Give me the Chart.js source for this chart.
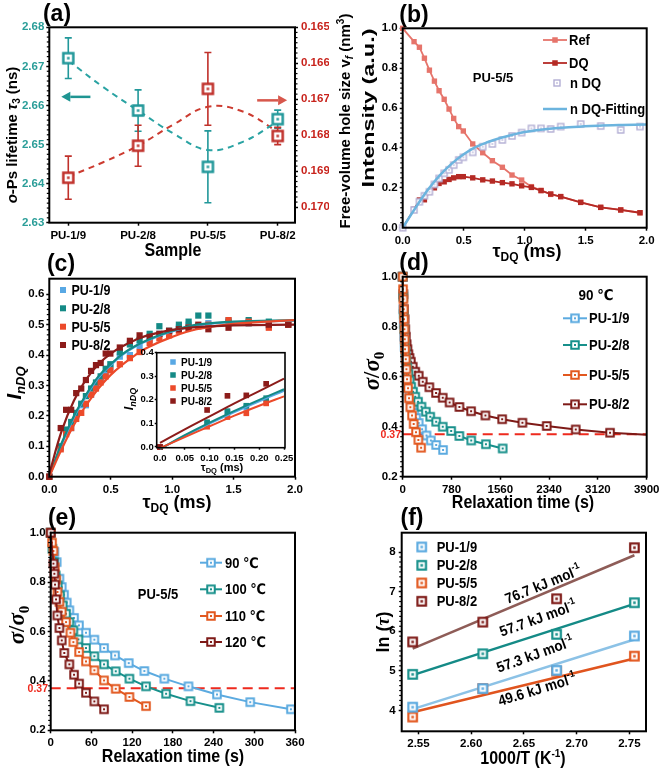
<!DOCTYPE html>
<html><head><meta charset="utf-8">
<script src="https://cdn.jsdelivr.net/npm/chart.js@4.4.1/dist/chart.umd.min.js"></script>
<style>html,body{margin:0;padding:0;background:#fff}#wrap{position:relative;width:660px;height:768px;overflow:hidden;background:#fff}canvas{position:absolute;left:0;top:0}</style>
</head><body><div id="wrap"></div>
<script>
// ================= DATA =================
// (a)
const samples = ['PU-1/9','PU-2/8','PU-5/5','PU-8/2'];
const sampleIdx = [0,1,2,3];
const tau3 = [2.6721, 2.6587, 2.6443, 2.6565];
const tau3Err = [0.0052, 0.0053, 0.0092, 0.0023];
const holeVf = [0.16918, 0.16829, 0.16671, 0.16802];
const holeVfErr = [0.0006, 0.00057, 0.00101, 0.00024];
const trendX = [0, 0.5, 1, 1.5, 2, 2.5, 3];
const tau3Trend = [2.6715, 2.6647, 2.6587, 2.6529, 2.6486, 2.6507, 2.6559];
const holeVfTrend = [0.16915, 0.16875, 0.16829, 0.16771, 0.16721, 0.16734, 0.1679];
const tau3Ticks = [2.63, 2.64, 2.65, 2.66, 2.67, 2.68];
const vfTicks = [0.165, 0.166, 0.167, 0.168, 0.169, 0.170];
// (b)
const tauDQ = [0,0.093,0.137,0.178,0.219,0.26,0.298,0.34,0.38,0.418,0.459,0.497,0.574,0.656,0.735,0.817,0.896,0.975,1.055,1.134,1.213,1.295,1.459,1.623,1.787,1.945];
const refB = [1.0,0.933,0.905,0.85,0.79,0.735,0.687,0.644,0.595,0.548,0.507,0.485,0.42,0.376,0.336,0.303,0.264,0.239,0.206,0.187,0.167,0.156,0.127,0.102,0.089,0.075];
const dqB = [0,0.092,0.139,0.14,0.18,0.2,0.222,0.23,0.242,0.25,0.256,0.256,0.25,0.24,0.234,0.226,0.22,0.21,0.202,0.186,0.169,0.156,0.127,0.102,0.089,0.075];
const ndqB = [0,0.089,0.13,0.16,0.18,0.217,0.247,0.273,0.29,0.314,0.34,0.353,0.378,0.406,0.42,0.44,0.46,0.477,0.498,0.498,0.495,0.507,0.52,0.51,0.49,0.507];
const fitBX = [0,0.1,0.2,0.3,0.4,0.5,0.6,0.7,0.8,0.9,1.0,1.2,1.4,1.6,1.8,2.0];
const fitBY = [0,0.095,0.185,0.26,0.32,0.368,0.405,0.43,0.45,0.466,0.48,0.496,0.505,0.511,0.515,0.518];
const unitTicks = [0,0.2,0.4,0.6,0.8,1.0];
const msTicks = [0,0.5,1.0,1.5,2.0];
// (c)
const ndq19 = [0,0.095,0.15,0.16,0.2,0.235,0.235,0.27,0.30,0.32,0.34,0.36,0.395,0.40,0.43,0.45,0.47,0.475,0.49,0.50,0.495,0.505,0.515,0.505,0.495,0.505];
const ndq28 = [0,0.10,0.155,0.18,0.21,0.24,0.265,0.29,0.31,0.33,0.355,0.37,0.41,0.435,0.45,0.47,0.495,0.48,0.50,0.51,0.53,0.53,0.51,0.515,0.51,0.50];
const ndq55 = [0,0.09,0.14,0.16,0.19,0.21,0.24,0.27,0.29,0.31,0.33,0.35,0.37,0.39,0.41,0.44,0.455,0.465,0.48,0.49,0.495,0.50,0.515,0.51,0.49,0.50];
const ndq82 = [0,0.16,0.22,0.22,0.275,0.29,0.318,0.348,0.367,0.374,0.405,0.405,0.425,0.447,0.465,0.46,0.47,0.48,0.485,0.49,0.5,0.485,0.49,0.505,0.50,0.50];
const fitCX = [0,0.1,0.2,0.3,0.4,0.5,0.6,0.7,0.8,1.0,1.2,1.5,2.0];
const fitC19 = [0,0.105,0.195,0.265,0.325,0.367,0.402,0.428,0.448,0.478,0.497,0.508,0.513];
const fitC28 = [0,0.11,0.2,0.27,0.33,0.37,0.405,0.43,0.45,0.48,0.5,0.51,0.515];
const fitC55 = [0,0.09,0.17,0.235,0.29,0.335,0.37,0.4,0.425,0.46,0.485,0.503,0.515];
const fitC82 = [0.01,0.15,0.25,0.32,0.37,0.405,0.43,0.45,0.465,0.483,0.492,0.498,0.50];
const cTicksY = [0,0.1,0.2,0.3,0.4,0.5,0.6];
// (c) inset
const inX = [0,0.095,0.136,0.174,0.214];
const in19 = [0,0.10,0.147,0.168,0.20];
const in28 = [0,0.105,0.152,0.175,0.207];
const in55 = [0,0.086,0.127,0.143,0.185];
const in82 = [0,0.157,0.217,0.219,0.268];
const inFitX = [0,0.05,0.1,0.15,0.2,0.25];
const inFit19 = [-0.008,0.047,0.099,0.148,0.194,0.238];
const inFit28 = [-0.008,0.05,0.103,0.153,0.2,0.245];
const inFit55 = [-0.005,0.042,0.088,0.133,0.175,0.215];
const inFit82 = [0.017,0.075,0.13,0.185,0.237,0.29];
const inTicksX = [0,0.05,0.10,0.15,0.20,0.25];
const inTicksY = [0,0.1,0.2,0.3,0.4];
// (d) 90 C
const tD19 = [0,5,10,16,23,31,40,50,62,76,92,110,130,155,185,215,255,310,380,450,535,645];
const sD19 = [1.0,0.93,0.87,0.81,0.76,0.72,0.68,0.645,0.615,0.585,0.555,0.53,0.505,0.48,0.455,0.435,0.415,0.39,0.365,0.345,0.327,0.307];
const tD28 = [0,8,16,25,35,45,58,72,90,110,135,165,200,245,300,370,440,535,640,775,905,1095,1330,1598];
const sD28 = [1.0,0.92,0.85,0.79,0.74,0.70,0.665,0.635,0.61,0.585,0.56,0.54,0.52,0.50,0.48,0.46,0.44,0.42,0.40,0.383,0.363,0.345,0.33,0.313];
const tD55 = [0,5,11,16,21,27,32,37,48,59,69,85,101,122,149,175,212,250,294];
const sD55 = [1.0,0.95,0.91,0.87,0.83,0.79,0.75,0.71,0.67,0.63,0.59,0.554,0.514,0.478,0.445,0.411,0.378,0.347,0.316];
const tD82 = [0,10,20,30,40,50,62,75,90,108,130,160,200,256,320,426,533,640,750,906,1093,1322,1590,1913,2302,2765,3314,3900];
const sD82 = [1.0,0.93,0.87,0.83,0.79,0.76,0.73,0.71,0.69,0.675,0.66,0.64,0.62,0.604,0.58,0.558,0.535,0.516,0.497,0.479,0.462,0.445,0.43,0.416,0.403,0.389,0.376,0.368];
const dTicksX = [0,780,1560,2340,3120,3900];
const relaxTicksY = [0.2,0.4,0.6,0.8,1.0];
const threshold = 0.37;
// (e) PU-5/5
const tE90 = [0,5.4,8.8,12.8,16.2,19.6,23.6,27.5,34.4,41.7,52,64.3,78.6,94.8,115,138,167.5,203,245,294,354];
const sE90 = [1.0,0.922,0.881,0.814,0.78,0.749,0.717,0.686,0.655,0.625,0.595,0.567,0.533,0.503,0.472,0.44,0.409,0.378,0.345,0.314,0.285];
const tE100 = [0,2.5,4.9,7.4,10.3,13.8,17.7,22.6,27.5,33.4,40.8,52,64.3,78.6,95.8,116,140.5,170,206,248.5];
const sE100 = [1.0,0.935,0.881,0.827,0.787,0.746,0.706,0.672,0.638,0.605,0.568,0.533,0.50,0.467,0.439,0.409,0.378,0.348,0.318,0.291];
const tE110 = [0,2,4,6,8,10,12.8,16.2,22.6,29,33.4,41.8,52,64.3,78.6,95.8,116,140.5];
const sE110 = [1.0,0.96,0.926,0.86,0.81,0.76,0.72,0.68,0.638,0.595,0.557,0.517,0.479,0.443,0.402,0.368,0.335,0.298];
const tE120 = [0,4,5.4,6.4,7.9,9.8,12.8,16.2,20,27.5,34.4,41.8,52,64.3,78.6];
const sE120 = [1.0,0.875,0.834,0.79,0.73,0.665,0.614,0.564,0.513,0.467,0.425,0.389,0.352,0.317,0.285];
const eTicksX = [0,60,120,180,240,300,360];
const tempsE = ['90 ℃','100 ℃','110 ℃','120 ℃'];
// (f)
const invT = [2.5445, 2.611, 2.681, 2.7548];
const lnTau19 = [4.08, 4.55, 5.01, 5.88];
const lnTau28 = [4.91, 5.43, 5.92, 6.72];
const lnTau55 = [3.83, 4.55, 4.99, 5.37];
const lnTau82 = [5.73, 6.23, 6.82, 8.11];
const fitFX = [2.5445, 2.7548];
const fitF19 = [4.03, 5.79];
const fitF28 = [4.89, 6.69];
const fitF55 = [3.95, 5.31];
const fitF82 = [5.56, 7.92];
const eaValues = ['76.7','57.7','57.3','49.6'];
const fTicksX = [2.55,2.60,2.65,2.70,2.75];
const fTicksY = [4,5,6,7,8];

// ================= HELPERS =================
const W = 660, H = 768;
const FONT = "'Liberation Sans','DejaVu Sans',Arial,sans-serif";
const SERIF = "'Liberation Serif','DejaVu Serif',serif";
const TEAL = '#22989A', TEALT = '#2A9D98', REDA = '#C0312B', REDAT = '#C8231C';
const C19 = '#5BAAE0', C28 = '#17908B', C55 = '#E2581F', C82 = '#7E1A17';
const CC19 = '#58A8E4', CC28 = '#148A86', CC55 = '#EC4A2A', CC82 = '#8C1C1A';
const wrap = document.getElementById('wrap');
const zip = (xs, ys) => xs.map((x, i) => ({x, y: ys[i]}));

function mk(color, side, lw, dot) {
  const c = document.createElement('canvas');
  const s = Math.ceil(side + lw + 2);
  c.width = s; c.height = s;
  const g = c.getContext('2d');
  const o = (s - side) / 2;
  g.fillStyle = '#fff'; g.fillRect(o, o, side, side);
  g.strokeStyle = color; g.lineWidth = lw; g.strokeRect(o, o, side, side);
  if (dot) { g.fillStyle = color; g.fillRect(s/2 - dot/2, s/2 - dot/2, dot, dot); }
  return c;
}
function fnt(p) { return (p.i ? 'italic ' : '') + (p.b === 0 ? '' : 'bold ') + p.s + 'px ' + (p.f === 'serif' ? SERIF : FONT); }
function txt(ctx, x, y, parts, o) {
  o = o || {};
  ctx.save(); ctx.translate(x, y);
  if (o.rot) ctx.rotate(o.rot * Math.PI / 180);
  ctx.scale(o.sx || 1, o.sy || 1);
  ctx.textBaseline = 'alphabetic'; ctx.textAlign = 'left';
  let w = 0;
  const ws = parts.map(p => { ctx.font = fnt(p); const m = ctx.measureText(p.t).width; w += m; return m; });
  let cx = o.align === 'left' ? 0 : (o.align === 'right' ? -w : -w / 2);
  const base = parts[0].s * 0.36;
  parts.forEach((p, i) => { ctx.font = fnt(p); ctx.fillStyle = p.c || o.color || '#000'; ctx.fillText(p.t, cx, base + (p.dy || 0)); cx += ws[i]; });
  ctx.restore();
}
function sc(o) {
  const horiz = o.axis === 'x';
  return {
    type: 'linear', position: o.pos, min: o.min, max: o.max, reverse: !!o.reverse,
    grid: {display: true, drawOnChartArea: false, drawTicks: true, tickLength: o.tl == null ? 3 : o.tl, tickWidth: 1.5, tickColor: '#000'},
    border: {display: false},
    ticks: {autoSkip: false, maxRotation: 0, minRotation: 0, padding: o.pad == null ? 2 : o.pad, color: o.color || '#000',
      font: {family: FONT, size: o.fs || 11.5, weight: 'bold'}, callback: o.fmt},
    afterBuildTicks: s => { s.ticks = o.ticks.map(v => ({value: v})); },
    afterFit: s => { if (horiz) s.height = o.size; else s.width = o.size; s.paddingLeft = 0; s.paddingRight = 0; s.paddingTop = 0; s.paddingBottom = 0; }
  };
}
function frameAndMinor(ctx, chart, lw, minorSides) {
  const a = chart.chartArea;
  ctx.save();
  ctx.strokeStyle = '#000'; ctx.lineWidth = lw;
  ctx.strokeRect(a.left, a.top, a.right - a.left, a.bottom - a.top);
  ctx.lineWidth = 1.2;
  (minorSides || []).forEach(ms => {
    const s = chart.scales[ms.id];
    const px = s.ticks.map(k => s.getPixelForValue(k.value));
    for (let i = 0; i < px.length - 1; i++) {
      const n = Math.max(2, Math.round(Math.abs(px[i+1] - px[i]) / 5));
      for (let j = 1; j < n; j++) {
        const p = px[i] + (px[i+1] - px[i]) * j / n;
        ctx.beginPath();
        if (ms.side === 'left') { ctx.moveTo(a.left, p); ctx.lineTo(a.left - 2.5, p); }
        else if (ms.side === 'right') { ctx.moveTo(a.right, p); ctx.lineTo(a.right + 2.5, p); }
        else { ctx.moveTo(p, a.bottom); ctx.lineTo(p, a.bottom + 2.5); }
        ctx.stroke();
      }
    }
  });
  ctx.restore();
}
function arrow(ctx, x1, y, x2, color, lw, hl, hw) {
  const d = Math.sign(x2 - x1);
  ctx.save(); ctx.strokeStyle = color; ctx.fillStyle = color; ctx.lineWidth = lw;
  ctx.beginPath(); ctx.moveTo(x1, y); ctx.lineTo(x2 - d * hl, y); ctx.stroke();
  ctx.beginPath(); ctx.moveTo(x2, y); ctx.lineTo(x2 - d * hl, y - hw); ctx.lineTo(x2 - d * hl, y + hw); ctx.closePath(); ctx.fill();
  ctx.restore();
}
function legLine(ctx, x1, x2, y, color, lw) {
  ctx.save(); ctx.strokeStyle = color; ctx.lineWidth = lw; ctx.beginPath(); ctx.moveTo(x1, y); ctx.lineTo(x2, y); ctx.stroke(); ctx.restore();
}
function legImg(ctx, img, x, y) { ctx.drawImage(img, x - img.width / 2, y - img.height / 2); }
function legRect(ctx, color, x, y, s) { ctx.save(); ctx.fillStyle = color; ctx.fillRect(x - s/2, y - s/2, s, s); ctx.restore(); }

function mkChart(id, L, T, R, B, yW, xH, rW, scales, datasets, extra) {
  const c = document.createElement('canvas');
  c.id = id; c.width = W; c.height = H; c.style.width = W + 'px'; c.style.height = H + 'px';
  wrap.appendChild(c);
  datasets.forEach(d => { if (d.clip === undefined) d.clip = false; });
  return new Chart(c, {
    type: 'scatter',
    data: {datasets},
    options: {
      responsive: false, animation: false, devicePixelRatio: 1, events: [],
      layout: {padding: {left: L - yW, top: T, right: W - R - (rW || 0), bottom: H - B - xH}},
      plugins: {legend: {display: false}, tooltip: {enabled: false}},
      scales
    },
    plugins: [extra]
  });
}
function lineDS(xs, ys, color, lw, extra) {
  return Object.assign({data: zip(xs, ys), showLine: true, borderColor: color, borderWidth: lw, pointRadius: 0, tension: 0}, extra || {});
}
function markDS(xs, ys, img, line, color, lw, extra) {
  return Object.assign({data: zip(xs, ys), showLine: !!line, borderColor: color, borderWidth: lw || 2, pointStyle: img, pointRadius: 5, tension: 0}, extra || {});
}

// ================= (a) =================
const mkTealA = mk(TEAL, 10, 2.5, 2.5), mkRedA = mk(REDA, 10, 2.5, 2.5);
mkChart('ca', 49.3, 27.3, 295, 222.7, 46, 25, 34, {
  x: sc({axis: 'x', pos: 'bottom', min: -0.272, max: 3.248, ticks: sampleIdx, fmt: v => samples[v], size: 25, pad: 3}),
  y: sc({axis: 'y', pos: 'left', min: 2.63, max: 2.68, ticks: tau3Ticks, fmt: v => v.toFixed(2), size: 46, color: TEALT}),
  y2: sc({axis: 'y', pos: 'right', min: 0.165, max: 0.17043, reverse: true, ticks: vfTicks, fmt: v => v.toFixed(3), size: 34, color: REDAT, pad: 3})
}, [
  markDS(sampleIdx, tau3, mkTealA, false, TEAL, 2, {yAxisID: 'y', order: 0}),
  markDS(sampleIdx, holeVf, mkRedA, false, REDA, 2, {yAxisID: 'y2', order: 0}),
  lineDS(trendX, tau3Trend, '#2AA3A3', 2, {yAxisID: 'y', borderDash: [6, 5], tension: 0.4, order: 2}),
  lineDS(trendX, holeVfTrend, '#CC3B30', 2, {yAxisID: 'y2', borderDash: [6, 5], tension: 0.4, order: 2})
], {
  id: 'pa',
  beforeDatasetsDraw(chart) {
    const ctx = chart.ctx, x = chart.scales.x, y = chart.scales.y, y2 = chart.scales.y2;
    ctx.save(); ctx.lineWidth = 1.6;
    sampleIdx.forEach((k, i) => {
      const px = x.getPixelForValue(k);
      [[y, tau3[i], tau3Err[i], TEAL], [y2, holeVf[i], holeVfErr[i], REDA]].forEach(([s, v, e, col]) => {
        const a = s.getPixelForValue(v - e), b = s.getPixelForValue(v + e);
        ctx.strokeStyle = col; ctx.beginPath();
        ctx.moveTo(px, a); ctx.lineTo(px, b);
        ctx.moveTo(px - 3.5, a); ctx.lineTo(px + 3.5, a);
        ctx.moveTo(px - 3.5, b); ctx.lineTo(px + 3.5, b);
        ctx.stroke();
      });
    });
    ctx.restore();
  },
  afterDraw(chart) {
    const ctx = chart.ctx, x = chart.scales.x, y = chart.scales.y, y2 = chart.scales.y2;
    frameAndMinor(ctx, chart, 2, [{id: 'y', side: 'left'}, {id: 'y2', side: 'right'}]);
    arrow(ctx, x.getPixelForValue(0.317), y.getPixelForValue(2.6622), x.getPixelForValue(-0.1), '#1F9592', 2.5, 9, 5);
    arrow(ctx, x.getPixelForValue(2.706), y2.getPixelForValue(0.16703), x.getPixelForValue(3.135), '#D7574C', 2.5, 9, 5);
    txt(ctx, 57, 13, [{t: '(a)', s: 23}]);
    txt(ctx, 12, 135, [{t: 'o', s: 15, i: 1}, {t: '-Ps lifetime ', s: 15}, {t: 'τ', s: 15, i: 1}, {t: '3', s: 10, dy: 3}, {t: ' (ns)', s: 15}], {rot: -90});
    txt(ctx, 345, 121, [{t: 'Free-volume hole size v', s: 15}, {t: 'f', s: 10, i: 1, dy: 3}, {t: ' (nm', s: 15}, {t: '3', s: 10, dy: -6}, {t: ')', s: 15}], {rot: -90});
    txt(ctx, 173, 250, [{t: 'Sample', s: 16}], {sy: 1.1});
  }
});

// ================= (b) =================
const mkNdq = mk('#B3AED4', 6, 1.4, 1.5);
mkChart('cb', 402.7, 28.3, 646.7, 227.7, 40, 25, 0, {
  x: sc({axis: 'x', pos: 'bottom', min: 0, max: 2, ticks: msTicks, fmt: v => v.toFixed(1), size: 25, pad: 3}),
  y: sc({axis: 'y', pos: 'left', min: 0, max: 1, ticks: unitTicks, fmt: v => v.toFixed(1), size: 40})
}, [
  lineDS(fitBX, fitBY, '#6CB4DE', 2.5, {tension: 0.4, order: 0}),
  markDS(tauDQ, ndqB, mkNdq, false, '#B3AED4', 1, {order: 1}),
  lineDS(tauDQ, dqB, '#B52A25', 1.8, {pointStyle: 'rect', pointRadius: 3.8, pointBackgroundColor: '#B52A25', pointBorderWidth: 0, order: 2}),
  lineDS(tauDQ, refB, '#E6746B', 1.8, {pointStyle: 'rect', pointRadius: 3.8, pointBackgroundColor: '#E6746B', pointBorderWidth: 0, order: 3})
], {
  id: 'pb',
  afterDraw(chart) {
    const ctx = chart.ctx;
    frameAndMinor(ctx, chart, 2, [{id: 'y', side: 'left'}]);
    txt(ctx, 414, 14, [{t: '(b)', s: 23}]);
    txt(ctx, 368, 108, [{t: 'Intensity (a.u.)', s: 17}], {rot: -90, sx: 1.38});
    txt(ctx, 527, 251, [{t: 'τ', s: 18}, {t: 'DQ', s: 12, dy: 4}, {t: ' (ms)', s: 18}]);
    txt(ctx, 493, 77, [{t: 'PU-5/5', s: 13}]);
    legLine(ctx, 543, 567, 40, '#E6746B', 1.8); legRect(ctx, '#E6746B', 555, 40, 5.5);
    legLine(ctx, 543, 567, 63, '#B52A25', 1.8); legRect(ctx, '#B52A25', 555, 63, 5.5);
    legImg(ctx, mkNdq, 557, 83);
    legLine(ctx, 543, 567, 109, '#6CB4DE', 2.5);
    txt(ctx, 569, 40, [{t: 'Ref', s: 13}], {align: 'left', sy: 1.1});
    txt(ctx, 569, 63, [{t: 'DQ', s: 13}], {align: 'left', sy: 1.1});
    txt(ctx, 570, 83, [{t: 'n DQ', s: 13}], {align: 'left', sy: 1.1});
    txt(ctx, 570, 109, [{t: 'n DQ-Fitting', s: 13}], {align: 'left', sy: 1.1});
  }
});

// ================= (c) =================
function sqDS(xs, ys, color, r, order) {
  return {data: zip(xs, ys), showLine: false, pointStyle: 'rect', pointRadius: r, pointBackgroundColor: color, pointBorderWidth: 0, borderColor: color, order};
}
mkChart('cc', 49.3, 278.7, 295, 476.7, 40, 25, 0, {
  x: sc({axis: 'x', pos: 'bottom', min: 0, max: 2, ticks: msTicks, fmt: v => v.toFixed(1), size: 25, pad: 3}),
  y: sc({axis: 'y', pos: 'left', min: 0, max: 0.6513, ticks: cTicksY, fmt: v => v.toFixed(1), size: 40})
}, [
  lineDS(fitCX, fitC82, CC82, 2.2, {tension: 0.4, order: 0}),
  lineDS(fitCX, fitC55, CC55, 2.2, {tension: 0.4, order: 0}),
  lineDS(fitCX, fitC28, CC28, 2.2, {tension: 0.4, order: 0}),
  lineDS(fitCX, fitC19, CC19, 2.2, {tension: 0.4, order: 1}),
  sqDS(tauDQ, ndq19, CC19, 4.4, 5),
  sqDS(tauDQ, ndq28, CC28, 4.4, 4),
  sqDS(tauDQ, ndq55, CC55, 4.4, 3),
  sqDS(tauDQ, ndq82, CC82, 4.4, 2)
], {
  id: 'pc',
  afterDraw(chart) {
    const ctx = chart.ctx;
    frameAndMinor(ctx, chart, 2, [{id: 'y', side: 'left'}]);
    txt(ctx, 61, 263, [{t: '(c)', s: 23}]);
    txt(ctx, 14, 383, [{t: 'I', s: 20, i: 1}, {t: 'nDQ', s: 13, i: 1, dy: 4}], {rot: -90});
    txt(ctx, 177, 502, [{t: 'τ', s: 18}, {t: 'DQ', s: 12, dy: 4}, {t: ' (ms)', s: 18}]);
    const cols = [CC19, CC28, CC55, CC82], ys = [290, 308.3, 326.7, 345];
    samples.forEach((n, i) => { legRect(ctx, cols[i], 63, ys[i], 6); txt(ctx, 71.5, ys[i], [{t: n, s: 12.5}], {align: 'left', sy: 1.2}); });
  }
});
// inset
mkChart('ci', 156.7, 352.7, 285, 447.7, 24, 20, 0, {
  x: sc({axis: 'x', pos: 'bottom', min: -0.0066, max: 0.252, ticks: inTicksX, fmt: v => v === 0 ? '0.0' : v.toFixed(2), size: 20, fs: 9.5, tl: 2, pad: 3}),
  y: sc({axis: 'y', pos: 'left', min: -0.003, max: 0.4, ticks: inTicksY, fmt: v => v.toFixed(1), size: 24, fs: 9.5, tl: 2, pad: 1})
}, [
  lineDS(inFitX, inFit82, CC82, 2, {tension: 0.4, order: 0}),
  lineDS(inFitX, inFit55, CC55, 2, {tension: 0.4, order: 0}),
  lineDS(inFitX, inFit28, CC28, 2, {tension: 0.4, order: 0}),
  lineDS(inFitX, inFit19, CC19, 2, {tension: 0.4, order: 1}),
  sqDS(inX, in19, CC19, 4, 5),
  sqDS(inX, in28, CC28, 4, 4),
  sqDS(inX, in55, CC55, 4, 3),
  sqDS(inX, in82, CC82, 4, 2)
], {
  id: 'pi',
  beforeDraw(chart) {
    const a = chart.chartArea, ctx = chart.ctx;
    ctx.save(); ctx.fillStyle = '#fff'; ctx.fillRect(a.left, a.top, a.right - a.left, a.bottom - a.top); ctx.restore();
  },
  afterDraw(chart) {
    const ctx = chart.ctx;
    frameAndMinor(ctx, chart, 1.6, []);
    txt(ctx, 128, 399, [{t: 'I', s: 13, i: 1}, {t: 'nDQ', s: 9, i: 1, dy: 3}], {rot: -90});
    txt(ctx, 222, 467, [{t: 'τ', s: 11}, {t: 'DQ', s: 7.5, dy: 2.5}, {t: ' (ms)', s: 11}]);
    const cols = [CC19, CC28, CC55, CC82], ys = [362, 375, 388, 401];
    samples.forEach((n, i) => { legRect(ctx, cols[i], 173, ys[i], 5.5); txt(ctx, 181, ys[i], [{t: n, s: 10}], {align: 'left', sy: 1.1}); });
  }
});

// ================= (d) =================
const mD19 = mk(C19, 7.5, 2, 2), mD28 = mk(C28, 7.5, 2, 2), mD55 = mk(C55, 7.5, 2, 2), mD82 = mk(C82, 7.5, 2, 2);
mkChart('cd', 402.7, 276.7, 646.7, 476.7, 40, 25, 0, {
  x: sc({axis: 'x', pos: 'bottom', min: 0, max: 3900, ticks: dTicksX, fmt: v => String(v), size: 25, pad: 3}),
  y: sc({axis: 'y', pos: 'left', min: 0.2, max: 1.0, ticks: relaxTicksY, fmt: v => v.toFixed(1), size: 40})
}, [
  markDS(tD55, sD55, mD55, true, C55, 2, {order: 0}),
  markDS(tD28, sD28, mD28, true, C28, 2, {order: 1}),
  markDS(tD19, sD19, mD19, true, C19, 2, {order: 2}),
  markDS(tD82, sD82, mD82, true, C82, 2, {order: 3, pointRadius: tD82.map(t => t === 3900 ? 0 : 5)}),
  lineDS([0, 3900], [threshold, threshold], '#EE2A1E', 2, {borderDash: [10, 6], order: 4})
], {
  id: 'pd',
  afterDraw(chart) {
    const ctx = chart.ctx, y = chart.scales.y;
    frameAndMinor(ctx, chart, 2, [{id: 'y', side: 'left'}]);
    txt(ctx, 401, y.getPixelForValue(threshold), [{t: threshold.toFixed(2), s: 10.5, c: '#EE2A1E'}], {align: 'right'});
    txt(ctx, 414, 262, [{t: '(d)', s: 23}]);
    txt(ctx, 371, 371, [{t: 'σ', s: 23, i: 1, f: 'serif'}, {t: '/', s: 23, f: 'serif'}, {t: 'σ', s: 23, i: 1, f: 'serif'}, {t: '0', s: 15, f: 'serif', dy: 5}], {rot: -90});
    txt(ctx, 523, 502, [{t: 'Relaxation time (s)', s: 16}], {sy: 1.12});
    txt(ctx, 596, 295, [{t: '90 ℃', s: 13.5}], {sy: 1.1});
    const imgs = [mD19, mD28, mD55, mD82], cols = [C19, C28, C55, C82], ys = [318.3, 345, 375, 404.3];
    samples.forEach((n, i) => { legLine(ctx, 563, 587, ys[i], cols[i], 2); legImg(ctx, imgs[i], 575, ys[i]); txt(ctx, 589, ys[i], [{t: n, s: 13}], {align: 'left', sy: 1.1}); });
  }
});

// ================= (e) =================
mkChart('ce', 50.7, 532.7, 295, 730.3, 40, 25, 0, {
  x: sc({axis: 'x', pos: 'bottom', min: 0, max: 360, ticks: eTicksX, fmt: v => String(v), size: 25, pad: 3}),
  y: sc({axis: 'y', pos: 'left', min: 0.2, max: 1.0, ticks: relaxTicksY, fmt: v => v.toFixed(1), size: 40})
}, [
  markDS(tE120, sE120, mD82, true, C82, 2, {order: 0}),
  markDS(tE110, sE110, mD55, true, C55, 2, {order: 1}),
  markDS(tE100, sE100, mD28, true, C28, 2, {order: 2}),
  markDS(tE90, sE90, mD19, true, C19, 2, {order: 3}),
  lineDS([0, 360], [threshold, threshold], '#EE2A1E', 2, {borderDash: [10, 6], order: 4})
], {
  id: 'pe',
  afterDraw(chart) {
    const ctx = chart.ctx, y = chart.scales.y;
    frameAndMinor(ctx, chart, 2, [{id: 'y', side: 'left'}]);
    txt(ctx, 48, y.getPixelForValue(threshold), [{t: threshold.toFixed(2), s: 10.5, c: '#EE2A1E'}], {align: 'right'});
    txt(ctx, 62, 517, [{t: '(e)', s: 23}]);
    txt(ctx, 16, 625, [{t: 'σ', s: 23, i: 1, f: 'serif'}, {t: '/', s: 23, f: 'serif'}, {t: 'σ', s: 23, i: 1, f: 'serif'}, {t: '0', s: 15, f: 'serif', dy: 5}], {rot: -90});
    txt(ctx, 173, 756, [{t: 'Relaxation time (s)', s: 16}], {sy: 1.12});
    txt(ctx, 158, 594, [{t: 'PU-5/5', s: 13}], {sy: 1.1});
    const imgs = [mD19, mD28, mD55, mD82], cols = [C19, C28, C55, C82], ys = [562.7, 589.3, 616, 642];
    tempsE.forEach((n, i) => { legLine(ctx, 200, 222, ys[i], cols[i], 2); legImg(ctx, imgs[i], 211, ys[i]); txt(ctx, 225, ys[i], [{t: n, s: 13}], {align: 'left', sy: 1.1}); });
  }
});

// ================= (f) =================
const mF19 = mk(C19, 8.5, 2.2, 2.5), mF28 = mk(C28, 8.5, 2.2, 2.5), mF55 = mk(C55, 8.5, 2.2, 2.5), mF82 = mk(C82, 8.5, 2.2, 2.5);
mkChart('cf', 401.7, 532.7, 646, 731.3, 40, 25, 0, {
  x: sc({axis: 'x', pos: 'bottom', min: 2.5341, max: 2.7658, ticks: fTicksX, fmt: v => v.toFixed(2), size: 25, pad: 3}),
  y: sc({axis: 'y', pos: 'left', min: 3.47, max: 8.49, ticks: fTicksY, fmt: v => String(v), size: 40, pad: 3})
}, [
  markDS(invT, lnTau82, mF82, false, C82, 2, {order: 0}),
  markDS(invT, lnTau28, mF28, false, C28, 2, {order: 0}),
  markDS(invT, lnTau19, mF19, false, C19, 2, {order: 0}),
  markDS(invT, lnTau55, mF55, false, C55, 2, {order: 0}),
  lineDS(fitFX, fitF82, '#8E5C57', 2.5, {order: 2}),
  lineDS(fitFX, fitF28, '#148A86', 2.5, {order: 2}),
  lineDS(fitFX, fitF19, '#8CC2E6', 2.5, {order: 2}),
  lineDS(fitFX, fitF55, '#E0541E', 2.5, {order: 2})
], {
  id: 'pf',
  afterDraw(chart) {
    const ctx = chart.ctx;
    frameAndMinor(ctx, chart, 2, [{id: 'y', side: 'left'}]);
    txt(ctx, 412, 517, [{t: '(f)', s: 23}]);
    txt(ctx, 383, 632, [{t: 'ln (', s: 18}, {t: 'τ', s: 18, i: 1, f: 'serif'}, {t: ')', s: 18}], {rot: -90});
    txt(ctx, 523, 758, [{t: '1000/T (K', s: 16}, {t: '-1', s: 10, dy: -7}, {t: ')', s: 16}], {sy: 1.1});
    const pos = [[543, 584, -22], [538, 618, -20], [535, 654, -20], [537, 689, -17]];
    eaValues.forEach((v, i) => txt(ctx, pos[i][0], pos[i][1], [{t: v + ' kJ mol', s: 13.5}, {t: '-1', s: 9, dy: -6}], {rot: pos[i][2], sy: 1.1}));
    const imgs = [mF19, mF28, mF55, mF82], ys = [547, 565.3, 583, 601.3];
    samples.forEach((n, i) => { legImg(ctx, imgs[i], 421.7, ys[i]); txt(ctx, 436.7, ys[i], [{t: n, s: 13}], {align: 'left', sy: 1.1}); });
  }
});
</script></body></html>
